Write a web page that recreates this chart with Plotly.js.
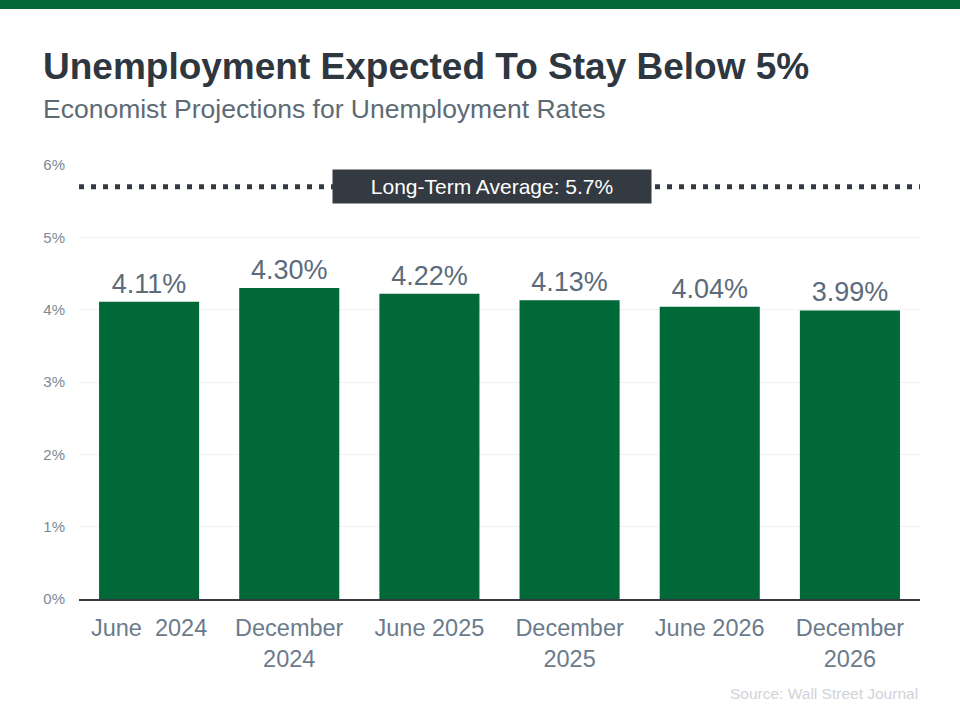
<!DOCTYPE html>
<html><head><meta charset="utf-8">
<script src="https://cdn.plot.ly/plotly-3.0.1.min.js"></script>
<style>html,body{margin:0;padding:0;background:#fff;}#chart{width:960px;height:720px;}</style>
</head><body><div id="chart"></div>
<script>
const categories = ["June\u00a0\u00a02024", "December<br>2024", "June 2025", "December<br>2025", "June 2026", "December<br>2026"];
const rates = [4.11, 4.30, 4.22, 4.13, 4.04, 3.99];
const rateLabels = ["4.11%", "4.30%", "4.22%", "4.13%", "4.04%", "3.99%"];
const longTermAverage = 5.7;
const yTickVals = [0, 1, 2, 3, 4, 5, 6];
const yTickText = ["0%", "1%", "2%", "3%", "4%", "5%", "6%"];

const font = "Liberation Sans, Arial, sans-serif";
const trace = {
  type: "bar", x: categories, y: rates, text: rateLabels,
  textposition: "outside", cliponaxis: false,
  textfont: {family: font, size: 27, color: "#5b6b7b"},
  marker: {color: "#006937"}, hoverinfo: "none"
};
const layout = {
  width: 960, height: 720,
  margin: {l: 79, r: 40, t: 165, b: 121},
  paper_bgcolor: "#fff", plot_bgcolor: "#fff",
  showlegend: false, bargap: 0.286,
  font: {family: font},
  xaxis: {
    tickfont: {family: font, size: 23.5, color: "#6b7b8c"},
    showline: true, linecolor: "#333a42", linewidth: 2,
    ticks: "", showgrid: false, fixedrange: true, ticklabelstandoff: 7
  },
  yaxis: {
    range: [0, 6], tickvals: yTickVals, ticktext: yTickText,
    tickfont: {family: font, size: 15, color: "#7d8894"},
    showgrid: true, gridcolor: "#f1f1f1", gridwidth: 1,
    zeroline: false, showline: false, ticks: "", ticklabelstandoff: 13
  },
  shapes: [
    {type: "rect", xref: "paper", yref: "paper", x0: -79/841, x1: 881/841, y0: 1 + 156/434, y1: 1 + 165/434,
     fillcolor: "#006937", line: {width: 0}, layer: "above"},
    {type: "line", xref: "paper", yref: "y", x0: 0, x1: 1, y0: longTermAverage, y1: longTermAverage,
     line: {color: "#333a42", width: 5, dash: "5px,7px"}}
  ],
  annotations: [
    {xref: "paper", yref: "paper", x: -38/841, y: 1 + 99/434, xanchor: "left", yanchor: "middle",
     text: "<b>Unemployment Expected To Stay Below 5%</b>", showarrow: false,
     font: {family: font, size: 37, color: "#2e3640"}},
    {xref: "paper", yref: "paper", x: -38/841, y: 1 + 56/434, xanchor: "left", yanchor: "middle",
     text: "Economist Projections for Unemployment Rates", showarrow: false,
     font: {family: font, size: 26.5, color: "#5d6b75"}},
    {xref: "paper", yref: "y", x: 0.491, y: longTermAverage, xanchor: "center", yanchor: "middle",
     text: "Long-Term Average: 5.7%", showarrow: false, bgcolor: "#333a42",
     width: 312, height: 27, borderpad: 3,
     font: {family: font, size: 21, color: "#ffffff"}},
    {xref: "paper", yref: "paper", x: 1, y: -94/434, xanchor: "right", yanchor: "middle",
     text: "Source: Wall Street Journal", showarrow: false,
     font: {family: font, size: 15.5, color: "#cfd3d8"}}
  ]
};
Plotly.newPlot("chart", [trace], layout, {displayModeBar: false, staticPlot: true});
</script></body></html>
